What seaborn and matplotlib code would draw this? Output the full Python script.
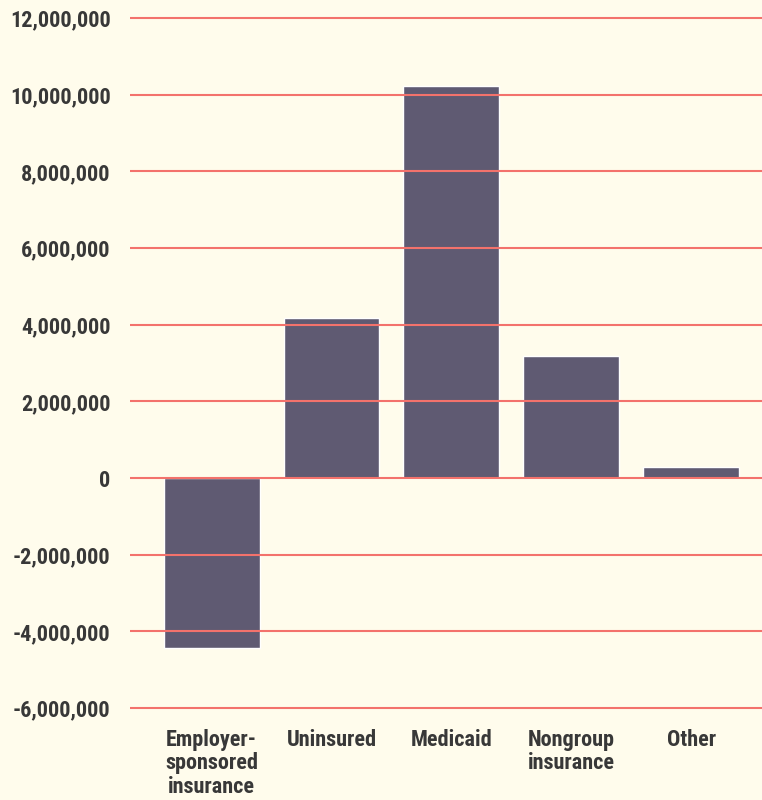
import matplotlib
matplotlib.use("Agg")
import matplotlib.pyplot as plt
import seaborn as sns
import pandas as pd

categories = ["Employer-\nsponsored\ninsurance", "Uninsured", "Medicaid",
              "Nongroup\ninsurance", "Other"]
change = [-4430000, 4170000, 10230000, 3180000, 290000]
y_ticks = [-6000000, -4000000, -2000000, 0, 2000000, 4000000,
           6000000, 8000000, 10000000, 12000000]

bg = "#fffcec"
bar_color = "#5f5a72"
grid_color = "#f3726c"
text_color = "#383838"

sns.set_theme(style="white")
plt.rcParams["font.family"] = ["Roboto Condensed", "Archivo Narrow",
                               "Liberation Sans Narrow", "DejaVu Sans"]

df = pd.DataFrame({"category": categories, "change": change})

fig = plt.figure(figsize=(7.62, 8.0), dpi=100, facecolor=bg)
ax = fig.add_axes([130 / 762, 1 - 712 / 800, 1 - 130 / 762, (712 - 14) / 800])
ax.set_facecolor(bg)

sns.barplot(data=df, x="category", y="change", color=bar_color,
            saturation=1, width=0.8, ax=ax, zorder=1)

per_px = 2000000 / 76.67
ax.set_ylim(-6000000 - 4 * per_px, 12000000 + 4 * per_px)
ax.set_xlim(-0.68, 4.59)
ax.set_yticks(y_ticks)
ax.set_yticklabels([f"{v:,}" for v in y_ticks])

# reference lines sit on top of the bars
for v in y_ticks:
    ax.axhline(v, color=grid_color, lw=1.5, zorder=3)

ax.set_xlabel("")
ax.set_ylabel("")
for s in ax.spines.values():
    s.set_visible(False)
ax.tick_params(axis="both", length=0, colors=text_color)
ax.tick_params(axis="y", pad=14)
ax.tick_params(axis="x", pad=12)
for lab in ax.get_yticklabels() + ax.get_xticklabels():
    lab.set_fontsize(16)
    lab.set_fontweight("bold")
    lab.set_color(text_color)
for lab in ax.get_xticklabels():
    lab.set_linespacing(1.1)
    lab.set_verticalalignment("top")

fig.savefig("out.png", dpi=100, facecolor=bg)
